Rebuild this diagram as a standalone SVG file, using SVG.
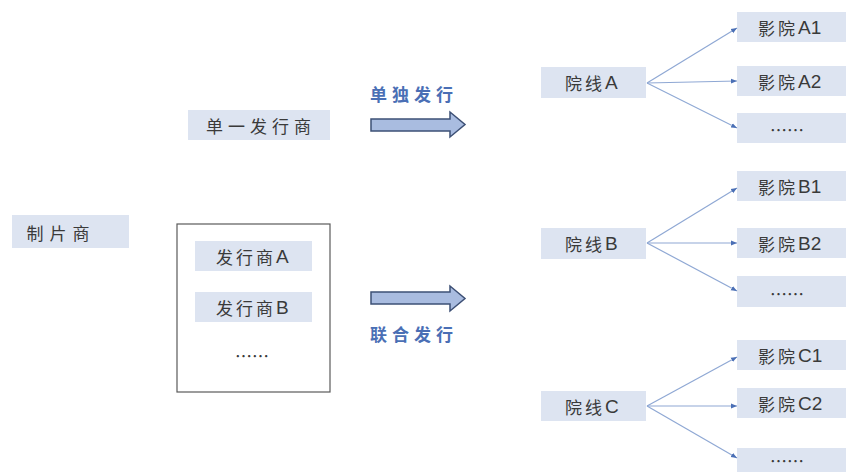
<svg xmlns="http://www.w3.org/2000/svg" width="846" height="472" viewBox="0 0 846 472">
<style>
.box{fill:#dde4f1}
.t{font-family:"Noto Sans CJK SC","Noto Sans",sans-serif;font-size:17px;fill:#3a3a3a;text-anchor:middle;dominant-baseline:central;letter-spacing:3px}
.s{text-anchor:start}
.lat{font-family:"Liberation Sans",Arial,sans-serif;font-size:19px;letter-spacing:0}
.lab{font-family:"Noto Sans CJK SC","Noto Sans",sans-serif;font-size:17px;fill:#4a6fb5;font-weight:bold;text-anchor:middle;dominant-baseline:central;letter-spacing:5px}
.c{stroke:#8fa8d4;stroke-width:1.2;fill:none;marker-end:url(#ah)}
.big{fill:#a9bce0;stroke:#3d5075;stroke-width:1.5}
</style>
<defs>
<marker id="ah" viewBox="0 0 10 10" refX="10" refY="5" markerWidth="6" markerHeight="6" orient="auto" markerUnits="userSpaceOnUse">
<path d="M0,1 L10,5 L0,9 z" fill="#4a6fb5"/>
</marker>
</defs>
<rect width="846" height="472" fill="#ffffff"/>
<g id="producer"><rect class="box" x="12" y="215" width="117" height="33"/><text class="t" x="61" y="232" style="letter-spacing:6px">制片商</text></g>
<g id="single"><rect class="box" x="188" y="110" width="142" height="30"/><text class="t" x="261" y="125" style="letter-spacing:5px">单一发行商</text></g>
<g id="joint"><rect x="177" y="224" width="153" height="168" fill="#ffffff" stroke="#5a5a5a" stroke-width="1.2"/>
<g id="distA"><rect class="box" x="195" y="241" width="117" height="30"/><text class="t s" x="216" y="256">发行商<tspan class="lat">A</tspan></text></g>
<g id="distB"><rect class="box" x="195" y="292" width="117" height="30"/><text class="t s" x="216" y="307">发行商<tspan class="lat">B</tspan></text></g>
<text class="t" x="252" y="355" style="letter-spacing:0">……</text></g>
<g id="arrow1"><path class="big" d="M371,119 L450,119 L450,112 L465,124.5 L450,137 L450,131 L371,131 z"/><text class="lab" x="414" y="93">单独发行</text></g>
<g id="arrow2"><path class="big" d="M371,292 L450,292 L450,286 L465,298.5 L450,311 L450,304 L371,304 z"/><text class="lab" x="414" y="333">联合发行</text></g>
<g id="chainA"><rect class="box" x="541" y="67" width="105" height="31"/><text class="t s" x="565" y="82">院线<tspan class="lat">A</tspan></text></g>
<g id="chainB"><rect class="box" x="541" y="228" width="105" height="31"/><text class="t s" x="565" y="243">院线<tspan class="lat">B</tspan></text></g>
<g id="chainC"><rect class="box" x="541" y="391" width="105" height="30"/><text class="t s" x="565" y="406">院线<tspan class="lat">C</tspan></text></g>
<g id="A1"><rect class="box" x="737" y="12" width="109" height="30"/><text class="t s" x="758" y="27">影院<tspan class="lat">A1</tspan></text></g>
<g id="A2"><rect class="box" x="737" y="66" width="109" height="30"/><text class="t s" x="758" y="81">影院<tspan class="lat">A2</tspan></text></g>
<g id="A3"><rect class="box" x="737" y="113" width="109" height="30"/><text class="t" x="787" y="129" style="letter-spacing:0">……</text></g>
<g id="B1"><rect class="box" x="737" y="171" width="109" height="30"/><text class="t s" x="758" y="186">影院<tspan class="lat">B1</tspan></text></g>
<g id="B2"><rect class="box" x="737" y="228" width="109" height="30"/><text class="t s" x="758" y="243">影院<tspan class="lat">B2</tspan></text></g>
<g id="B3"><rect class="box" x="737" y="276" width="109" height="31"/><text class="t" x="787" y="293" style="letter-spacing:0">……</text></g>
<g id="C1"><rect class="box" x="737" y="340" width="109" height="30"/><text class="t s" x="758" y="355">影院<tspan class="lat">C1</tspan></text></g>
<g id="C2"><rect class="box" x="737" y="388" width="109" height="30"/><text class="t s" x="758" y="403">影院<tspan class="lat">C2</tspan></text></g>
<g id="C3"><rect class="box" x="737" y="448" width="109" height="30"/><text class="t" x="787" y="460" style="letter-spacing:0">……</text></g>
<g id="connectors">
<path class="c" d="M647,83 L737,28"/>
<path class="c" d="M647,83 L737,81"/>
<path class="c" d="M647,83 L737,128"/>
<path class="c" d="M647,243 L737,188"/>
<path class="c" d="M647,243 L737,243"/>
<path class="c" d="M647,243 L737,291"/>
<path class="c" d="M647,406 L737,357"/>
<path class="c" d="M647,406 L737,406"/>
<path class="c" d="M647,406 L737,458"/>
</g>
</svg>
